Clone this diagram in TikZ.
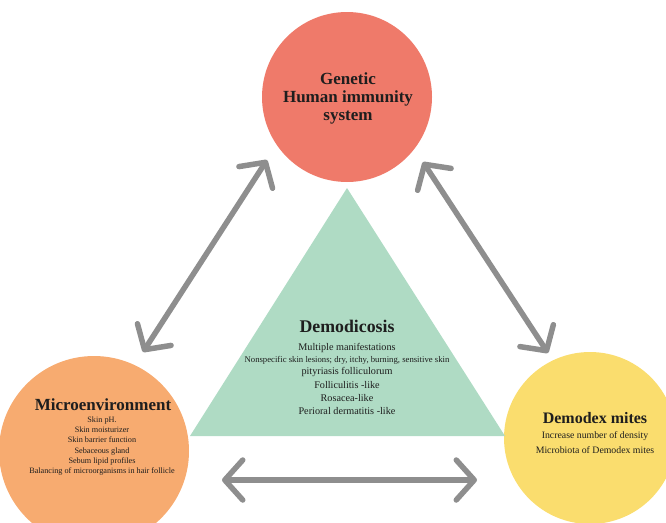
\documentclass[tikz,border=0pt]{standalone}
\usepackage{fontspec}
\setmainfont{Liberation Serif}
\usetikzlibrary{arrows.meta}
\definecolor{topc}{HTML}{EF7A6A}
\definecolor{leftc}{HTML}{F7AB70}
\definecolor{rightc}{HTML}{FADD6E}
\definecolor{tric}{HTML}{AFDBC4}
\definecolor{arrc}{HTML}{8E8E8E}
\definecolor{txt}{HTML}{1E1E1E}
\tikzset{
  blob/.style={circle, fill=#1, draw=none, inner sep=0pt},
  ttl/.style={text=txt, font=\bfseries\fontsize{17}{18}\selectfont, align=center, inner sep=0pt},
  body/.style={text=txt, align=center, inner sep=0pt},
  dbl/.style={draw=arrc, line width=5.5pt,
    {Straight Barb[length=18pt,width=40pt,round]}-{Straight Barb[length=18pt,width=40pt,round]}}
}
\begin{document}
\begin{tikzpicture}[x=1pt,y=-1pt]
\useasboundingbox (0,0) rectangle (666,522);
\begin{scope}
\clip (0,0) rectangle (666,522);
% circles
\node[blob=topc, minimum size=170pt] (top) at (347,97) {};
\node[blob=leftc, minimum size=190pt] (left) at (94,451) {};
\node[blob=rightc, minimum size=172pt] (right) at (590,438) {};
\end{scope}
% triangle
\coordinate (apex) at (347,188);
\coordinate (bl) at (190,436);
\coordinate (br) at (505,436);
\fill[tric] (apex) -- (bl) -- (br) -- cycle;
% arrows
\coordinate (a1) at (267,160);
\coordinate (a2) at (143,352);
\coordinate (b1) at (423,162);
\coordinate (b2) at (548,353);
\coordinate (c1) at (222,480);
\coordinate (c2) at (477,480);
\draw[dbl] (a2) -- (a1);
\draw[dbl] (b1) -- (b2);
\draw[dbl] (c1) -- (c2);
% texts
\node[ttl] (toptxt) at (348,98) {Genetic\\Human immunity\\system};
\node[ttl] (lefttitle) at (103,405) {Microenvironment};
\node[body, font=\fontsize{8.2}{10.2}\selectfont] (leftbody) at (102,446)
  {Skin pH.\\Skin moisturizer\\Skin barrier function\\Sebaceous gland\\Sebum lipid profiles\\Balancing of microorganisms in hair follicle};
\node[ttl, font=\bfseries\fontsize{16}{18}\selectfont] (righttitle) at (595,418) {Demodex mites};
\node[body, font=\fontsize{9.8}{15}\selectfont] (rightbody) at (595,443)
  {Increase number of density\\Microbiota of Demodex mites};
\node[ttl, font=\bfseries\fontsize{17.8}{18}\selectfont] (demtitle) at (347,326) {Demodicosis};
\node[body, font=\fontsize{10.2}{13.2}\selectfont] (dembody) at (347,379)
  {Multiple manifestations\\[-1pt]
   {\fontsize{8.7}{9}\selectfont Nonspecific skin lesions; dry, itchy, burning, sensitive skin}\\[-1pt]
   pityriasis folliculorum\\Folliculitis -like\\Rosacea-like\\Perioral dermatitis -like};
\end{tikzpicture}
\end{document}
